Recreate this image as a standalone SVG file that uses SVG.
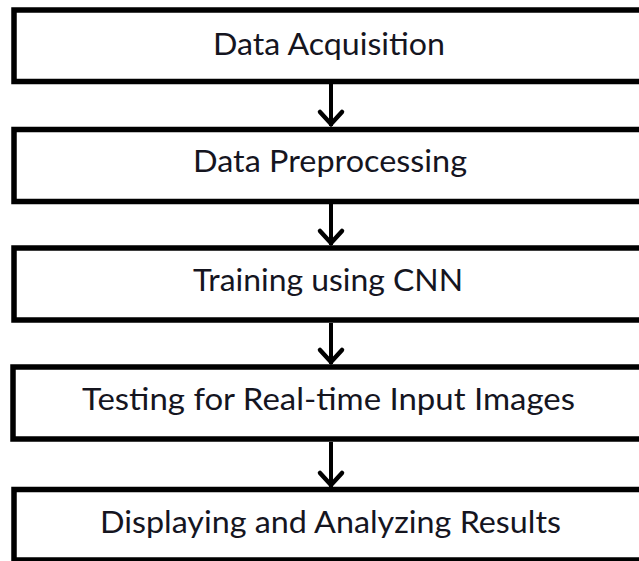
<svg xmlns="http://www.w3.org/2000/svg" width="639" height="561" viewBox="0 0 639 561">
<defs>
<style>
.box{fill:#fff;stroke:#000;stroke-width:5.5}
.lbl{font-family:Lato,"Open Sans","Liberation Sans",sans-serif;font-size:30px;fill:#15151f;text-anchor:middle}
.ln{stroke:#000;stroke-width:4;fill:none}
.hd{stroke:#000;stroke-width:4.5;fill:none;stroke-linecap:round;stroke-linejoin:miter}
</style>
</defs>
<rect width="639" height="561" fill="#fff"/>
<g id="connectors">
<path class="ln" d="M331 84V126"/><path class="hd" d="M320 112L331 124L342 112"/>
<path class="ln" d="M331 204V245"/><path class="hd" d="M320 231L331 243L342 231"/>
<path class="ln" d="M331 323V364"/><path class="hd" d="M320 350L331 362L342 350"/>
<path class="ln" d="M331 442V487"/><path class="hd" d="M320 473L331 485L342 473"/>
</g>
<g id="n1"><rect class="box" x="14" y="10" width="640" height="71.5"/><text class="lbl" x="329" y="55" textLength="232" lengthAdjust="spacingAndGlyphs">Data Acquisition</text></g>
<g id="n2"><rect class="box" x="14" y="129.5" width="640" height="72"/><text class="lbl" x="330" y="172" textLength="274" lengthAdjust="spacingAndGlyphs">Data Preprocessing</text></g>
<g id="n3"><rect class="box" x="14" y="248" width="640" height="72"/><text class="lbl" x="328" y="291" textLength="270" lengthAdjust="spacingAndGlyphs">Training using CNN</text></g>
<g id="n4"><rect class="box" x="13" y="367" width="640" height="72"/><text class="lbl" x="328.5" y="410" textLength="493" lengthAdjust="spacingAndGlyphs">Testing for Real-time Input Images</text></g>
<g id="n5"><rect class="box" x="14" y="489.5" width="640" height="70.5"/><text class="lbl" x="330.5" y="533" textLength="461" lengthAdjust="spacingAndGlyphs">Displaying and Analyzing Results</text></g>
</svg>
